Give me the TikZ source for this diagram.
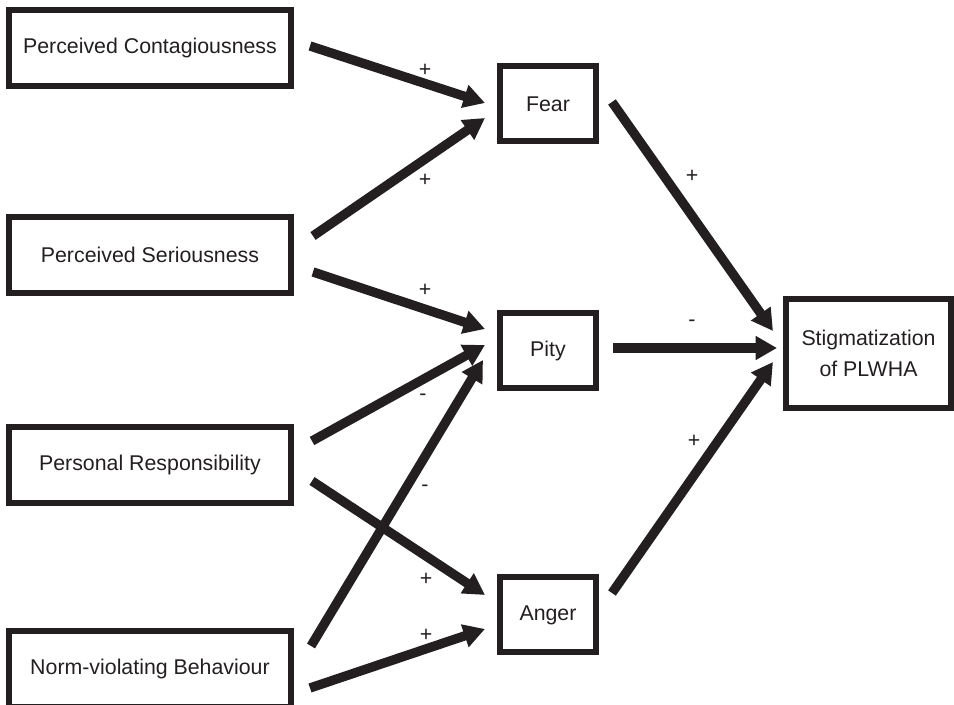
\documentclass[tikz,border=0pt]{standalone}
\usepackage{fontspec}
\setmainfont{Liberation Sans}
\usetikzlibrary{arrows.meta,calc}
\definecolor{inkdark}{HTML}{231F20}

\begin{document}
\begin{tikzpicture}[x=0.75pt,y=-0.75pt,font=\fontsize{16}{23}\selectfont,
   box/.style={draw=inkdark,line width=4.5pt,text=inkdark,align=center,
             minimum width=211.5pt,minimum height=57pt,inner sep=0pt},
   emo/.style={box,minimum width=72pt,minimum height=56.25pt},
   arr/.style={draw=inkdark,line width=7pt,-{Triangle[length=16pt,width=17pt]}},
   sgn/.style={text=inkdark,inner sep=0pt}]
  \useasboundingbox (0,0) rectangle (954,705);
  \node[box] (pc) at (150,48) {Perceived Contagiousness};
  \node[box] (ps) at (150,255) {Perceived Seriousness};
  \node[box] (pr) at (150,465) {Personal Responsibility};
  \node[box] (nb) at (150,669) {Norm-violating Behaviour};
  \node[emo] (fear) at (548,104) {Fear};
  \node[emo] (pity) at (548,350.5) {Pity};
  \node[emo] (anger) at (548,615) {Anger};
  \node[box,minimum width=123.75pt,minimum height=81.75pt] (stig)
       at (868.5,353.5) {Stigmatization\\of PLWHA};
  \draw[arr] ($(pc.east)+(16,-2)$) -- ($(fear.west)+(-12,-1)$);
  \draw[arr] ($(ps.east)+(19,-19)$) -- ($(fear.west)+(-12,14)$);
  \draw[arr] ($(ps.east)+(19,17)$) -- ($(pity.west)+(-12,-21.5)$);
  \draw[arr] ($(pr.east)+(18,-24)$) -- ($(pity.west)+(-12,-5.5)$);
  \draw[arr] ($(pr.east)+(18,16)$) -- ($(anger.west)+(-12,-20)$);
  \draw[arr] ($(nb.east)+(17,-23)$) -- ($(pity.west)+(-14,9.5)$);
  \draw[arr] ($(nb.east)+(16,19)$) -- ($(anger.west)+(-12,14)$);
  \draw[arr] ($(fear.east)+(13,-2)$) -- ($(stig.west)+(-10,-22.5)$);
  \draw[arr] ($(pity.east)+(14,-2.5)$) -- ($(stig.west)+(-6,-5.5)$);
  \draw[arr] ($(anger.east)+(13,-22)$) -- ($(stig.west)+(-10,8.5)$);
  \node[sgn] (s1) at (425,70) {+};
  \node[sgn] (s2) at (425,180) {+};
  \node[sgn] (s3) at (425,290) {+};
  \node[sgn] (s4) at (423,397) {-};
  \node[sgn] (s5) at (425,488) {-};
  \node[sgn] (s6) at (426,579) {+};
  \node[sgn] (s7) at (426,635) {+};
  \node[sgn] (s8) at (692,176) {+};
  \node[sgn] (s9) at (692,323) {-};
  \node[sgn] (s10) at (694,441) {+};
\end{tikzpicture}
\end{document}
